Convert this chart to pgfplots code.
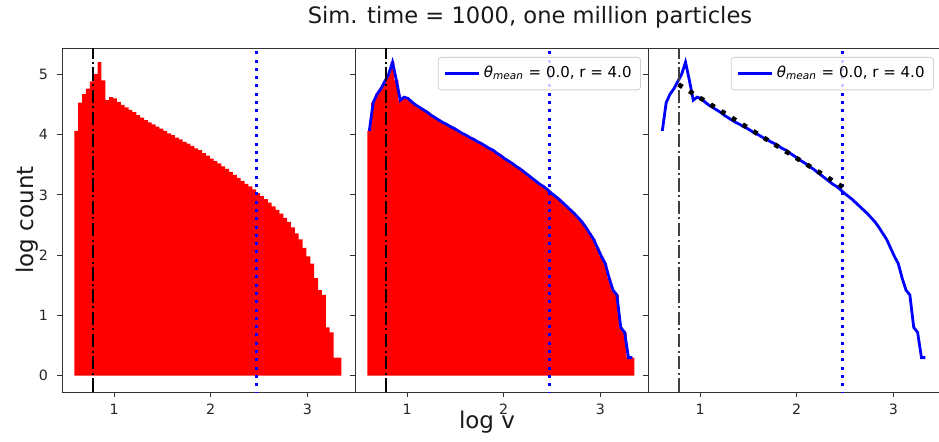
\documentclass[border=0pt]{standalone}
\usepackage{fontspec}
\setmainfont{DejaVu Sans}
\usepackage{pgfplots}
\usepackage{pgfplotstable}
\pgfplotsset{compat=1.18}

\definecolor{mplblue}{RGB}{0,0,255}
\definecolor{mplred}{RGB}{255,0,0}

% histogram of log v: bin left edge, bin centre, log count
\pgfplotstableread{
edge center y
0.59 0.61 4.06
0.63 0.65 4.53
0.67 0.69 4.67
0.71 0.73 4.76
0.75 0.77 4.88
0.79 0.81 5.00
0.83 0.85 5.20
0.87 0.89 4.90
0.91 0.93 4.57
0.95 0.97 4.62
0.99 1.01 4.60
1.03 1.05 4.54
1.07 1.09 4.49
1.11 1.13 4.45
1.15 1.17 4.41
1.19 1.21 4.37
1.23 1.25 4.32
1.27 1.29 4.28
1.31 1.33 4.24
1.35 1.37 4.20
1.39 1.41 4.17
1.43 1.45 4.13
1.47 1.49 4.10
1.51 1.53 4.06
1.55 1.57 4.02
1.59 1.61 3.99
1.63 1.65 3.95
1.67 1.69 3.92
1.71 1.73 3.88
1.75 1.77 3.85
1.79 1.81 3.81
1.83 1.85 3.77
1.87 1.89 3.74
1.91 1.93 3.69
1.95 1.97 3.65
1.99 2.01 3.60
2.03 2.05 3.56
2.07 2.09 3.52
2.11 2.13 3.47
2.15 2.17 3.43
2.19 2.21 3.38
2.23 2.25 3.33
2.27 2.29 3.28
2.31 2.33 3.23
2.35 2.37 3.18
2.39 2.41 3.14
2.43 2.45 3.09
2.47 2.49 3.03
2.51 2.53 2.98
2.55 2.57 2.93
2.59 2.61 2.87
2.63 2.65 2.81
2.67 2.69 2.75
2.71 2.73 2.69
2.75 2.77 2.62
2.79 2.81 2.55
2.83 2.85 2.46
2.87 2.89 2.36
2.91 2.93 2.26
2.95 2.97 2.12
2.99 3.01 1.98
3.03 3.05 1.86
3.07 3.09 1.62
3.11 3.13 1.42
3.15 3.17 1.34
3.19 3.21 0.80
3.23 3.25 0.72
3.27 3.29 0.30
3.31 3.33 0.30
3.35 nan 0.30
}\histdata

\pgfplotsset{
  panel/.style={
    scale only axis, width=146.5pt, height=172pt, anchor=south west,
    xmin=0.462, xmax=3.492, ymin=-0.27, ymax=5.435,
    xtick={1,2,3}, ytick={0,1,2,3,4,5},
    tick pos=left, tick align=outside, major tick length=2.5pt,
    every tick/.style={black!80, line width=0.4pt},
    axis line style={black!80, line width=0.4pt},
    ticklabel style={font=\fontsize{7.1}{8}\selectfont, text=black!85},
    yticklabel style={xshift=-1pt},
    /pgf/number format/assume math mode=true,
    legend style={at={(rel axis cs:0.976,0.974)}, anchor=north east,
      draw=black!18, line width=0.4pt, rounded corners=1.5pt,
      fill=white, fill opacity=0.8, text opacity=1,
      font=\fontsize{7.5}{8.5}\selectfont, inner sep=2.5pt},
    legend cell align=left,
    legend image code/.code={\draw[##1] (0pt,0pt) -- (17pt,0pt);},
  },
  bluecurve/.style={mplblue, line width=1.4pt},
  dashdotline/.style={line width=1.05pt, dash pattern=on 6.7pt off 1.7pt on 1pt off 1.7pt},
  bluedots/.style={mplblue, line width=1.5pt, dash pattern=on 1.5pt off 2.65pt},
}

\begin{document}
\begin{tikzpicture}

\begin{axis}[panel, at={(31pt,-196pt)}]
\addplot[fill=mplred, draw=none, const plot mark left] table[x=edge, y=y] {\histdata} \closedcycle;
\addplot[black, dashdotline] coordinates {(0.778,-1) (0.778,6)};
\addplot[bluedots] coordinates {(2.477,-1) (2.477,6)};
\end{axis}

\begin{axis}[panel, at={(177.5pt,-196pt)}, yticklabels={}]
\addplot[fill=mplred, draw=none, const plot mark left, forget plot] table[x=edge, y=y] {\histdata} \closedcycle;
\addplot[bluecurve] table[x=center, y=y] {\histdata};
\addlegendentry{\textit{θ}\textsubscript{\textit{mean}} = 0.0, r = 4.0}
\addplot[black, dashdotline, forget plot] coordinates {(0.778,-1) (0.778,6)};
\addplot[bluedots, forget plot] coordinates {(2.477,-1) (2.477,6)};
\end{axis}

\begin{axis}[panel, at={(324pt,-196pt)}, yticklabels={}]
\addplot[bluecurve] table[x=center, y=y] {\histdata};
\addlegendentry{\textit{θ}\textsubscript{\textit{mean}} = 0.0, r = 4.0}
\addplot[black!75, dashdotline, forget plot] coordinates {(0.778,-1) (0.778,6)};
\addplot[bluedots, forget plot] coordinates {(2.477,-1) (2.477,6)};
\addplot[black, line width=2.3pt, dash pattern=on 2.3pt off 4pt, forget plot] coordinates {(0.778,4.83) (2.477,3.13)};
\end{axis}

\node[font=\fontsize{11.3}{13}\selectfont, anchor=base, text=black!90] at (265pt,-11.8pt) {Sim. time = 1000, one million particles};
\node[font=\fontsize{11.5}{13}\selectfont, anchor=base, text=black!90] at (243.5pt,-214pt) {log v};
\node[font=\fontsize{11.5}{13}\selectfont, anchor=base, rotate=90, text=black!90] at (16.5pt,-110pt) {log count};

\pgfresetboundingbox
\path[use as bounding box] (0pt,0pt) rectangle (469.5pt,-220.5pt);
\end{tikzpicture}
\end{document}
